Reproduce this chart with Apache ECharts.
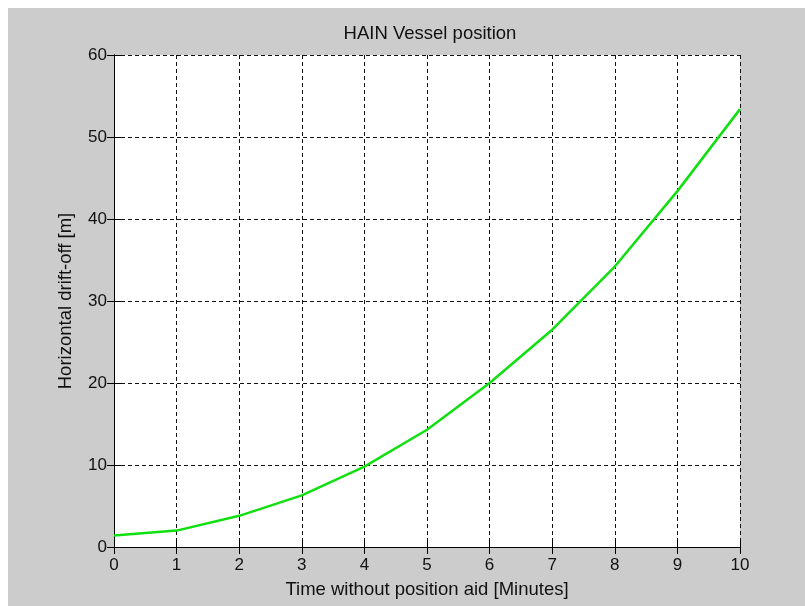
<!DOCTYPE html>
<html>
<head>
<meta charset="utf-8">
<script src="https://cdn.jsdelivr.net/npm/echarts@6/dist/echarts.min.js"></script>
<style>
html,body{margin:0;padding:0;background:#fff;}
#chart{width:805px;height:606px;}
</style>
</head>
<body>
<div id="chart"></div>
<script>
const titleText = 'HAIN Vessel position';
const xAxisName = 'Time without position aid [Minutes]';
const yAxisName = 'Horizontal drift-off [m]';
const timeMinutes = [0, 1, 2, 3, 4, 5, 6, 7, 8, 9, 10];
const driftOff = [1.4, 2.0, 3.8, 6.3, 9.8, 14.3, 20.0, 26.5, 34.2, 43.4, 53.4];
const xTicks = { min: 0, max: 10, interval: 1 };
const yTicks = { min: 0, max: 60, interval: 10 };

const FONT = '"Liberation Sans", Arial, sans-serif';
const chart = echarts.init(document.getElementById('chart'), null, { renderer: 'canvas' });

const tickStyle = { show: true, inside: true, length: 7, lineStyle: { color: '#000', width: 1 } };
const lineStyle = { show: true, lineStyle: { color: '#000', width: 1 } };
const gridDash = { show: true, lineStyle: { color: '#111', width: 1, type: [4, 3] } };

chart.setOption({
  animation: false,
  backgroundColor: '#ffffff',
  graphic: [{
    type: 'rect', z: -10, silent: true,
    shape: { x: 8, y: 8, width: 797, height: 598 },
    style: { fill: '#cccccc' }
  }],
  title: {
    text: titleText,
    left: 425, top: 19, textAlign: 'center',
    textStyle: { fontFamily: FONT, fontSize: 18.5, fontWeight: 'normal', color: '#111' }
  },
  grid: {
    left: 114, right: 65, top: 55, bottom: 59,
    show: true, backgroundColor: '#ffffff', borderWidth: 0
  },
  xAxis: [{
    type: 'value', position: 'bottom',
    min: xTicks.min, max: xTicks.max, interval: xTicks.interval,
    name: xAxisName, nameLocation: 'middle', nameGap: 33,
    nameTextStyle: { fontFamily: FONT, fontSize: 18.5, color: '#111' },
    axisLine: lineStyle, axisTick: tickStyle,
    axisLabel: { margin: 10, fontFamily: FONT, fontSize: 17, color: '#111' },
    splitLine: gridDash
  }, {
    type: 'value', position: 'top',
    min: xTicks.min, max: xTicks.max, interval: xTicks.interval,
    axisLine: lineStyle, axisTick: tickStyle,
    axisLabel: { show: false }, splitLine: { show: false }
  }],
  yAxis: [{
    type: 'value', position: 'left',
    min: yTicks.min, max: yTicks.max, interval: yTicks.interval,
    name: yAxisName, nameLocation: 'middle', nameGap: 39, nameRotate: 90,
    nameTextStyle: { fontFamily: FONT, fontSize: 18.5, color: '#111' },
    axisLine: lineStyle, axisTick: tickStyle,
    axisLabel: { margin: 7, fontFamily: FONT, fontSize: 17, color: '#111' },
    splitLine: gridDash
  }, {
    type: 'value', position: 'right',
    min: yTicks.min, max: yTicks.max, interval: yTicks.interval,
    axisLine: lineStyle, axisTick: tickStyle,
    axisLabel: { show: false }, splitLine: { show: false }
  }],
  series: [{
    type: 'line',
    xAxisIndex: 0, yAxisIndex: 0,
    data: timeMinutes.map((t, i) => [t, driftOff[i]]),
    showSymbol: false, smooth: false,
    lineStyle: { color: '#10e010', width: 2.5 },
    z: 5
  }]
});
</script>
</body>
</html>
